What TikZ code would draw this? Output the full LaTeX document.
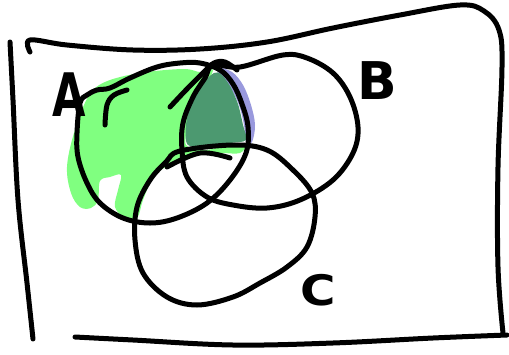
\documentclass[tikz,border=0pt]{standalone}
\usepackage{fontspec}
\setmainfont{DejaVu Sans}
\definecolor{fillgreen}{HTML}{80FF80}
\definecolor{fillblue}{HTML}{9999DD}
\definecolor{filldark}{HTML}{4C9970}
\begin{document}
\begin{tikzpicture}[x=1pt,y=-1pt,
  pen/.style={draw=black,line width=5pt,line cap=round,line join=round},
  letter/.style={inner sep=0pt,text=black}]
\useasboundingbox (0,0) rectangle (509,354);
% fills
\fill[fillgreen] plot[smooth cycle,tension=0.6] coordinates {
  (88,97) (105,82) (140,73) (183,69) (200,72) (213,70)
  (200,95) (190,120) (186,145) (205,150) (230,145) (245,145)
  (240,153) (222,153) (203,153) (185,158) (167,166) (153,178)
  (143,200) (137,218) (125,218) (115,207) (118,190) (121,175)
  (110,177) (100,181) (98,200) (91,208) (80,207) (71,193) (67,167) (74,133)};
\fill[fillblue] plot[smooth cycle,tension=0.6] coordinates {
  (218,68) (232,72) (243,85) (251,105) (255,125) (252,142)
  (246,142) (244,125) (239,105) (231,89) (221,78)};
\fill[filldark] plot[smooth cycle,tension=0.5] coordinates {
  (214,73) (221,74) (230,86) (238,104) (243,125) (246,140)
  (230,143) (210,145) (188,145) (186,125) (192,100) (204,82)};
% frame
\draw[pen] plot[smooth,tension=0.6] coordinates {
  (10,42) (13,100) (18,200) (27,283) (33,339)};
\draw[pen] plot[smooth,tension=0.6] coordinates {
  (30,52) (30,40) (67,45) (133,50) (200,49) (267,42) (333,28)
  (400,15) (460,5) (484,11) (499,30) (502,67) (498,167) (498,267) (503,333)};
\draw[pen] plot[smooth,tension=0.6] coordinates {
  (75,337) (133,340) (233,345) (333,343) (433,338) (507,335)};
% circle A
\draw[pen] plot[smooth cycle,tension=0.6] coordinates {
  (80,103) (77,133) (78,157) (87,183) (100,203) (123,218) (150,223)
  (177,218) (207,203) (230,180) (246,153) (248,127) (242,104) (233,84)
  (220,70) (200,63) (180,63) (157,67) (130,78) (110,88) (97,90) (87,95)};
% circle B
\draw[pen] plot[smooth cycle,tension=0.6] coordinates {
  (213,65) (240,67) (283,55) (307,58) (333,73) (350,97) (358,127)
  (353,153) (333,180) (300,200) (267,208) (233,205) (207,197)
  (187,177) (182,150) (183,123) (193,97) (205,78)};
% circle C
\draw[pen] plot[smooth cycle,tension=0.6] coordinates {
  (180,151) (233,145) (267,150) (293,170) (312,193) (315,217)
  (307,247) (287,267) (260,283) (233,297) (197,305) (167,297)
  (143,273) (135,240) (137,207) (150,180) (166,162)};
% extra strokes
\draw[pen] plot[smooth,tension=0.6] coordinates {(105,125) (107,105) (114,95) (127,90)};
\draw[pen] plot[smooth,tension=0.6] coordinates {(170,107) (186,90) (204,72) (214,63) (225,62) (237,70)};
\draw[pen] plot[smooth,tension=0.6] coordinates {(167,167) (200,153) (230,158)};
% letters
\node[letter,xscale=0.72,font=\bfseries\fontsize{60}{60}\selectfont] (la) at (69,95) {A};
\node[letter,font=\bfseries\fontsize{52}{52}\selectfont] (lb) at (377,81) {B};
\node[letter,xscale=1.15,font=\bfseries\fontsize{42}{42}\selectfont] (lc) at (318,290) {C};
\end{tikzpicture}
\end{document}
